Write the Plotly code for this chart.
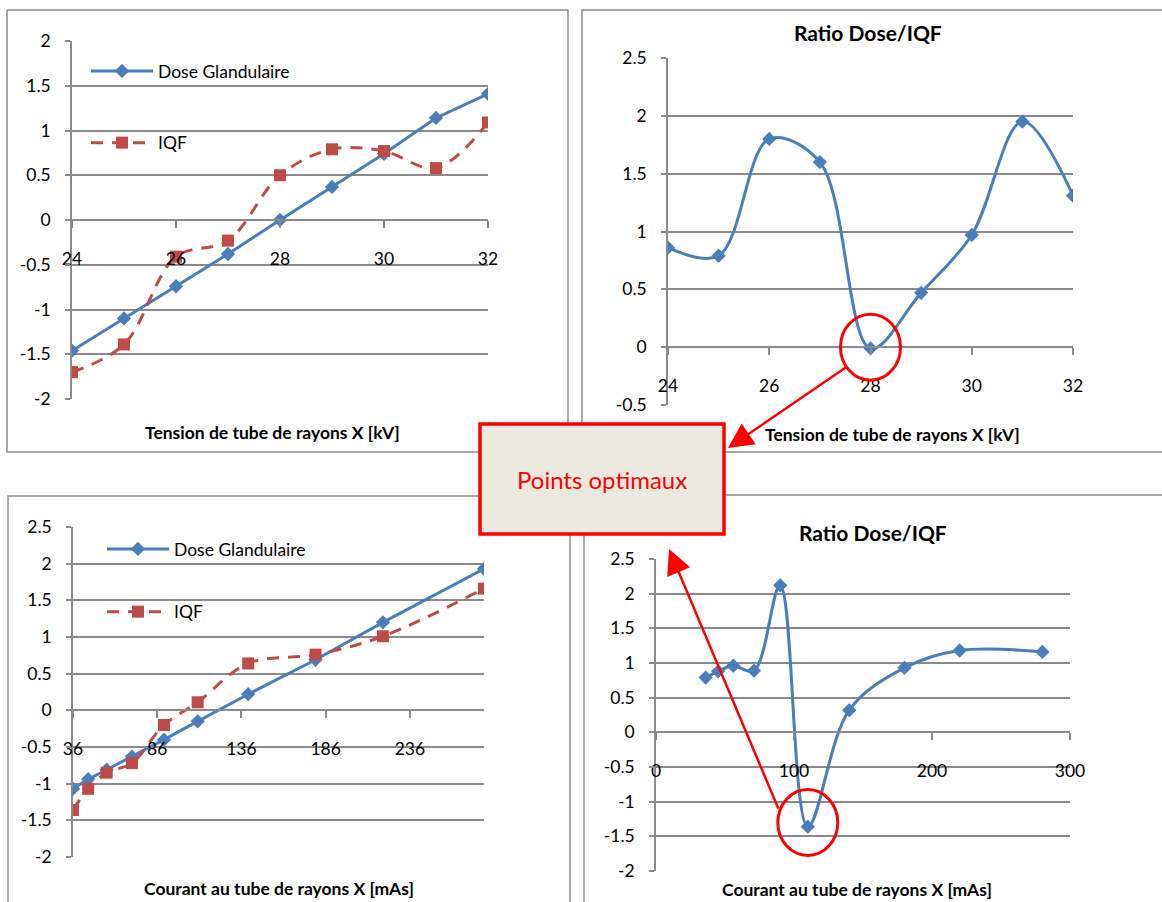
import plotly.graph_objects as go

W, H = 1162, 902

# ---------------- data ----------------
kv = [24, 25, 26, 27, 28, 29, 30, 31, 32]
kv_dose = [-1.46, -1.10, -0.74, -0.38, 0.00, 0.37, 0.74, 1.14, 1.41]
kv_iqf = [-1.70, -1.39, -0.41, -0.23, 0.50, 0.79, 0.77, 0.58, 1.09]
kv_ratio = [0.86, 0.79, 1.80, 1.60, -0.01, 0.47, 0.97, 1.95, 1.31]

mas = [36, 45, 56, 71, 90, 110, 140, 180, 220, 280]
mas_dose = [-1.07, -0.94, -0.81, -0.63, -0.40, -0.15, 0.22, 0.69, 1.20, 1.93]
mas_iqf = [-1.36, -1.07, -0.85, -0.72, -0.20, 0.11, 0.64, 0.76, 1.01, 1.66]
mas_ratio = [0.79, 0.88, 0.96, 0.89, 2.12, -1.36, 0.32, 0.93, 1.18, 1.16]

# tick values
kv_ticks = [24, 26, 28, 30, 32]
mas_ticks = [36, 86, 136, 186, 236]
mas_ratio_ticks = [0, 100, 200, 300]
y_ticks_a = [-2, -1.5, -1, -0.5, 0, 0.5, 1, 1.5, 2]
y_ticks_b = [-0.5, 0, 0.5, 1, 1.5, 2, 2.5]
y_ticks_c = [-2, -1.5, -1, -0.5, 0, 0.5, 1, 1.5, 2, 2.5]

title_ratio = "Ratio Dose/IQF"
title_kv = "Tension de tube de rayons X [kV]"
title_mas = "Courant au tube de rayons X [mAs]"
name_dose = "Dose Glandulaire"
name_iqf = "IQF"
box_text = "Points optimaux"

# ---------------- styles ----------------
FONT = "Lato"
BLUE = "#4A7EBB"
RED = "#BE4B48"
GRID = "#8a8a8a"
FRAME = "#8c8c8c"


def px(x):
    return x / W


def py(y):
    return 1 - y / H


def lab(v):
    return f"{v:g}"


fig = go.Figure()

fig.add_trace(go.Scatter(x=kv, y=kv_dose, name=name_dose, mode="lines+markers",
                         line=dict(color=BLUE, width=3),
                         marker=dict(symbol="diamond", size=11, color=BLUE),
                         xaxis="x", yaxis="y", legend="legend", legendgroup="a"))
fig.add_trace(go.Scatter(x=kv, y=kv_iqf, name=name_iqf, mode="lines+markers",
                         line=dict(color=RED, width=3, dash="12px,9px", shape="spline", smoothing=1),
                         marker=dict(symbol="square", size=12, color=RED),
                         xaxis="x", yaxis="y", legend="legend", legendgroup="b"))
fig.add_trace(go.Scatter(x=kv, y=kv_ratio, mode="lines+markers", showlegend=False,
                         line=dict(color=BLUE, width=3, shape="spline", smoothing=1),
                         marker=dict(symbol="diamond", size=11, color=BLUE),
                         xaxis="x2", yaxis="y2"))
fig.add_trace(go.Scatter(x=mas, y=mas_dose, name=name_dose, mode="lines+markers",
                         line=dict(color=BLUE, width=3),
                         marker=dict(symbol="diamond", size=11, color=BLUE),
                         xaxis="x3", yaxis="y3", legend="legend2", legendgroup="c"))
fig.add_trace(go.Scatter(x=mas, y=mas_iqf, name=name_iqf, mode="lines+markers",
                         line=dict(color=RED, width=3, dash="12px,9px", shape="spline", smoothing=1),
                         marker=dict(symbol="square", size=12, color=RED),
                         xaxis="x3", yaxis="y3", legend="legend2", legendgroup="d"))
fig.add_trace(go.Scatter(x=mas, y=mas_ratio, mode="lines+markers", showlegend=False,
                         line=dict(color=BLUE, width=3, shape="spline", smoothing=1),
                         marker=dict(symbol="diamond", size=11, color=BLUE),
                         xaxis="x4", yaxis="y4"))

# panels: (x0, x1, y0, y1) in px, xrange, xticks, yrange, yticks
panels = [
    ((72, 488, 41, 399), [24, 32], kv_ticks, [-2, 2], y_ticks_a),
    ((668, 1073, 58, 405), [24, 32], kv_ticks, [-0.5, 2.5], y_ticks_b),
    ((73, 484, 527, 857), [36, 280], mas_ticks, [-2, 2.5], y_ticks_c),
    ((656, 1070, 559, 871), [0, 300], mas_ratio_ticks, [-2, 2.5], y_ticks_c),
]

tickfont = dict(family=FONT, size=17.5, color="black")
layout_axes = {}
for i, (box, xr, xt, yr, yt) in enumerate(panels, start=1):
    x0, x1, y0, y1 = box
    ydom = [py(y1), py(y0)]
    pos = ydom[0] + (0 - yr[0]) / (yr[1] - yr[0]) * (ydom[1] - ydom[0])
    sfx = "" if i == 1 else str(i)
    layout_axes["xaxis" + sfx] = dict(
        domain=[px(x0), px(x1)], range=xr, tickmode="array", tickvals=xt,
        ticktext=[lab(v) for v in xt],
        anchor="free", position=pos, showline=True, linecolor=GRID, linewidth=1.5,
        ticks="outside", ticklen=7, tickwidth=1.5, tickcolor=GRID,
        showgrid=False, zeroline=False, tickfont=tickfont, ticklabelstandoff=16,
        automargin=False,
    )
    layout_axes["yaxis" + sfx] = dict(
        domain=ydom, range=yr, tickmode="array", tickvals=yt,
        ticktext=[lab(v) for v in yt],
        anchor="x" + sfx, showline=True, linecolor=GRID, linewidth=1.5,
        ticks="outside", ticklen=5, tickwidth=1.5, tickcolor=GRID,
        showgrid=True, gridcolor=GRID, gridwidth=1.5, zeroline=False,
        tickfont=tickfont, ticklabelstandoff=11, automargin=False,
    )


def path(points):
    return "M " + " L ".join(f"{px(a):.5f},{py(b):.5f}" for a, b in points)


shapes = []
frames = [
    [(7, 10), (568, 10), (568, 452), (7, 452), (7, 10)],
    [(1162, 10), (582, 10), (582, 452), (1162, 452)],
    [(8, 902), (8, 496), (570, 496), (570, 902)],
    [(1162, 495), (584, 495), (584, 902)],
]
for pts in frames:
    shapes.append(dict(type="path", xref="paper", yref="paper", path=path(pts),
                       line=dict(color=FRAME, width=1.5), layer="below"))
shapes.append(dict(type="rect", xref="paper", yref="paper", x0=px(480), x1=px(724), y0=py(534), y1=py(424),
                   fillcolor="#ECE9E0", line=dict(color="#FF0000", width=3.5), layer="above"))
shapes.append(dict(type="circle", xref="x2", yref="y2", xsizemode="pixel", ysizemode="pixel",
                   xanchor=28, yanchor=0, x0=-30, x1=30, y0=-33, y1=33,
                   line=dict(color="#FF0000", width=3), layer="above"))
shapes.append(dict(type="circle", xref="x4", yref="y4", xsizemode="pixel", ysizemode="pixel",
                   xanchor=110, yanchor=-1.3, x0=-30, x1=30, y0=-33, y1=33,
                   line=dict(color="#FF0000", width=3), layer="above"))

ann = []


def text(x, y, s, size, bold=False, color="black"):
    ann.append(dict(x=px(x), y=py(y), xref="paper", yref="paper", text=s, showarrow=False,
                    xanchor="center", yanchor="middle",
                    font=dict(family=FONT, size=size, color=color, weight="bold" if bold else "normal")))


text(868, 32, title_ratio, 21, True)
text(873, 532, title_ratio, 21, True)
text(272, 433, title_kv, 17.5, True)
text(892, 434, title_kv, 17.5, True)
text(279, 888, title_mas, 17.5, True)
text(857, 889, title_mas, 17.5, True)
text(602, 480, box_text, 24, False, "#FF0000")

for tip, tail in [((728, 448), (848, 366)), ((669, 549), (779, 810))]:
    ann.append(dict(x=px(tip[0]), y=py(tip[1]), xref="paper", yref="paper", text="",
                    showarrow=True, ax=tail[0] - tip[0], ay=tail[1] - tip[1],
                    arrowhead=2, arrowsize=2, arrowwidth=2.5, arrowcolor="#FF0000", standoff=0))

legfont = dict(family=FONT, size=17.5, color="black")
fig.update_layout(
    width=W, height=H, margin=dict(l=0, r=0, t=0, b=0, autoexpand=False),
    paper_bgcolor="white", plot_bgcolor="white",
    shapes=shapes, annotations=ann,
    legend=dict(x=px(86), y=py(53), xanchor="left", yanchor="top", bgcolor="rgba(0,0,0,0)",
                font=legfont, itemwidth=62, tracegroupgap=46, traceorder="grouped"),
    legend2=dict(x=px(102), y=py(531), xanchor="left", yanchor="top", bgcolor="rgba(0,0,0,0)",
                 font=legfont, itemwidth=62, tracegroupgap=37, traceorder="grouped"),
    **layout_axes,
)

fig.write_html("out.html", config={"displayModeBar": False},
               post_script="document.body.style.margin='0';document.body.style.overflow='hidden';")
